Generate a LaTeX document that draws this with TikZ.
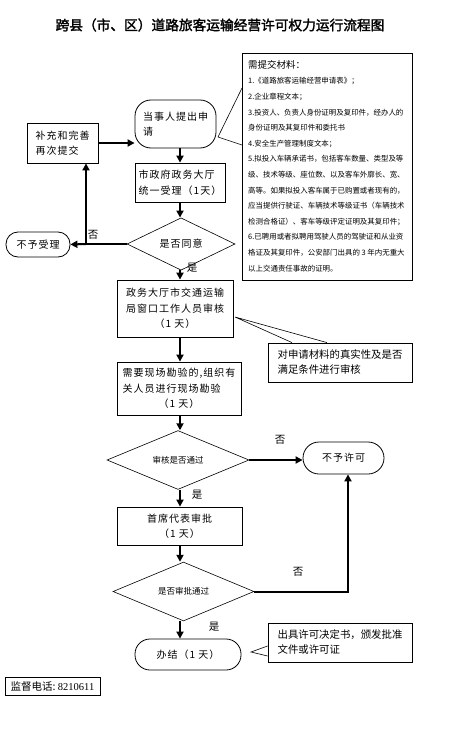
\documentclass[tikz,border=0pt]{standalone}
\usepackage{fontspec}
\usepackage{tikz}
\usetikzlibrary{shapes.geometric,arrows.meta}
\newfontfamily\cjk{Noto Sans CJK SC}
\newfontfamily\cjkwide[LetterSpace=10]{Noto Sans CJK SC}
\newfontfamily\cjkbold[FakeBold=2]{Noto Sans CJK SC}
\newfontfamily\numfont{Liberation Serif}

\begin{document}
\begin{tikzpicture}[x=1pt, y=-1pt,
    box/.style = {draw, line width=0.8pt, inner sep=2pt, font=\cjkwide\fontsize{10}{15.5}\selectfont},
    roundbox/.style = {box, rounded corners=#1},
    choice/.style = {draw, diamond, line width=0.6pt, inner sep=0pt, font=\cjkwide\fontsize{10}{12}\selectfont},
    flow/.style = {line width=2pt, -{Triangle[length=7pt,width=7pt]}},
    plain/.style = {line width=2pt},
    thin/.style = {line width=0.6pt},
    tag/.style = {font=\cjk\fontsize{10.5}{12}\selectfont}]
    \useasboundingbox (0,0) rectangle (457,738);

    % Title
    \node [font=\cjkbold\fontsize{13.7}{15}\selectfont] (title) at (220,25)
        {跨县（市、区）道路旅客运输经营许可权力运行流程图};

    % Nodes
    \node [roundbox=16, minimum width=81, minimum height=48, align=left] (ask) at (175.5,124) {当事人提出申\\请};
    \node [box, minimum width=71, minimum height=40, align=left] (redo) at (62.5,143) {补充和完善\\再次提交};
    \node [box, minimum width=90, minimum height=39, align=left] (accept) at (180,182.5) {市政府政务大厅\\统一受理（1天）};
    \node [choice, minimum width=108, minimum height=38] (agree) at (181,244) {是否同意};
    \node [roundbox=12, minimum width=64, minimum height=25] (refuse) at (38,244.5) {不予受理};
    \node [box, minimum width=116, minimum height=57, align=left] (check) at (175,308.5)
        {政务大厅市交通运输\\局窗口工作人员审核\\\hfil（1 天）\hfil};
    \node [box, minimum width=124, minimum height=53, align=left] (survey) at (179,388.5)
        {需要现场勘验的,组织有\\关人员进行现场勘验\\\hfil（1 天）\hfil};
    \node [choice, minimum width=142, minimum height=46, font=\cjk\fontsize{8.5}{10}\selectfont] (pass1) at (178,460) {审核是否通过};
    \node [roundbox=16, minimum width=81, minimum height=32] (deny) at (343.5,458) {不予许可};
    \node [box, minimum width=125, minimum height=38, align=center] (chief) at (179.5,526) {首席代表审批\\（1 天）};
    \node [choice, minimum width=141, minimum height=47, font=\cjk\fontsize{8.5}{10}\selectfont] (pass2) at (183.5,591.5) {是否审批通过};
    \node [roundbox=15, minimum width=106, minimum height=31] (done) at (188,654.5) {办结（1 天）};

    % Notes
    \node [draw, line width=0.8pt, minimum width=170, minimum height=227, anchor=north west] (mat) at (242,53) {};
    \node [anchor=north west, align=left, inner sep=0pt, font=\cjk\fontsize{7.45}{15.6}\selectfont] (mattext) at (248,60)
        {{\fontsize{9.5}{12}\selectfont 需提交材料：}\\
        1.《道路旅客运输经营申请表》；\\
        2.企业章程文本；\\
        3.投资人、负责人身份证明及复印件，经办人的\\
        身份证明及其复印件和委托书\\
        4.安全生产管理制度文本；\\
        5.拟投入车辆承诺书，包括客车数量、类型及等\\
        级、技术等级、座位数、以及客车外廓长、宽、\\
        高等。如果拟投入客车属于已购置或者现有的，\\
        应当提供行驶证、车辆技术等级证书（车辆技术\\
        检测合格证）、客车等级评定证明及其复印件；\\
        6.已聘用或者拟聘用驾驶人员的驾驶证和从业资\\
        格证及其复印件，公安部门出具的 3 年内无重大\\
        以上交通责任事故的证明。};
    \node [box, minimum width=144, minimum height=39, align=left, font=\cjk\fontsize{10.4}{15}\selectfont] (note1) at (340,362.5)
        {对申请材料的真实性及是否\\满足条件进行审核};
    \node [box, minimum width=144, minimum height=39, align=left, font=\cjk\fontsize{10.4}{15}\selectfont] (note2) at (340,642.5)
        {出具许可决定书，颁发批准\\文件或许可证};
    \node [draw, line width=0.8pt, minimum width=95, minimum height=18, inner sep=1pt, font=\cjk\fontsize{10.5}{12}\selectfont] (phone) at (52.5,686)
        {监督电话:~{\numfont 8210611}};

    % Callout points
    \coordinate (tip1) at (218,137);
    \coordinate (tip2) at (235,317);
    \coordinate (tip3) at (251,652);

    % Lines
    \draw [flow] (ask.south -| accept.north) -- (accept.north);
    \draw [flow] (redo.east) -- (redo.east -| ask.west);
    \draw [flow] (accept.south) -- (accept.south |- agree.north);
    \coordinate (split) at (86,244);
    \draw [plain] (agree.west) -- (split);
    \draw [flow] (split) -- (refuse.east);
    \draw [flow] (split) -- (split |- redo.south);
    \draw [flow] (accept.south |- agree.south) -- (accept.south |- check.north);
    \draw [flow] (accept.south |- check.south) -- (accept.south |- survey.north);
    \draw [flow] (accept.south |- survey.south) -- (accept.south |- pass1.north);
    \draw [flow] (pass1.east) -- (pass1.east -| deny.west);
    \draw [flow] (accept.south |- pass1.south) -- (accept.south |- chief.north);
    \draw [flow] (accept.south |- chief.south) -- (accept.south |- pass2.north);
    \draw [flow] (pass2.east) -| ([xshift=4.5pt]deny.south);
    \draw [flow] (accept.south |- pass2.south) -- (accept.south |- done.north);

    % Callouts
    \draw [thin] (mat.west |- 0,88) -- (tip1) -- (mat.west |- 0,145);
    \draw [thin] (note1.north -| 292,0) -- (tip2) -- (note1.north -| 327,0);
    \draw [thin] (note2.west |- 0,646) -- (tip3) -- (note2.west |- 0,656);

    % Labels
    \node [tag] at (93,235) {否};
    \node [tag] at (192,268) {是};
    \node [tag] at (280,440) {否};
    \node [tag] at (197,495) {是};
    \node [tag] at (298,572) {否};
    \node [tag] at (214,627) {是};

\end{tikzpicture}
\end{document}
